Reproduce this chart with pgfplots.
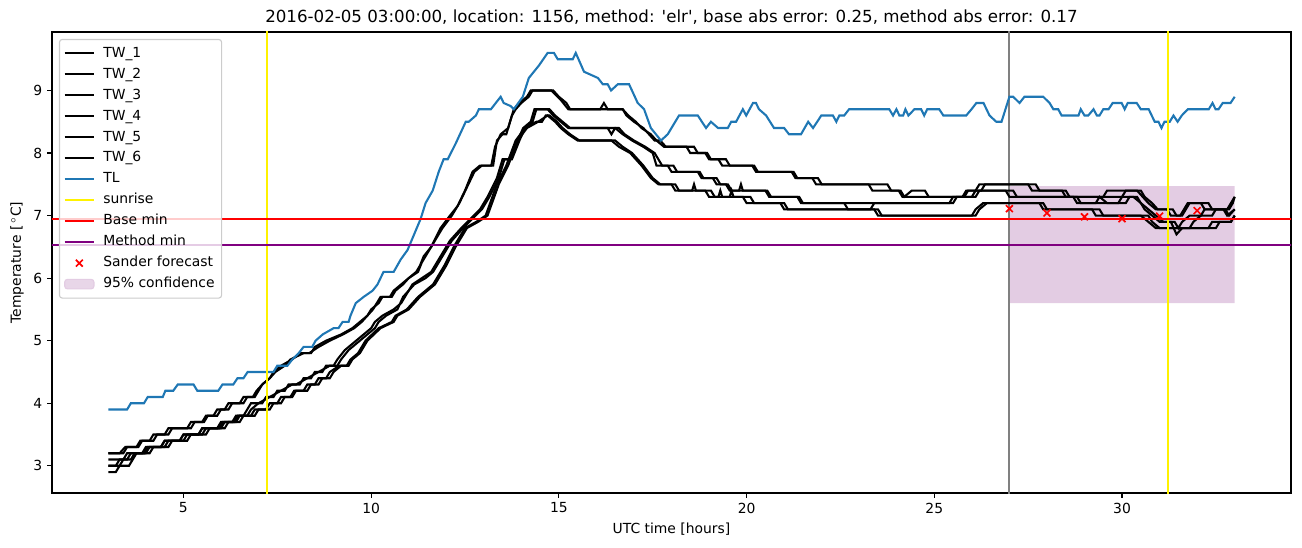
\documentclass[border=0pt]{standalone}
\usepackage{pgfplots}
\pgfplotsset{compat=1.18}
\usepackage{fontspec}
\setmainfont{DejaVu Sans}
\definecolor{tlblue}{HTML}{1F77B4}
\definecolor{mplpurple}{RGB}{128,0,128}
\definecolor{conf}{RGB}{227,204,227}
\definecolor{legframe}{RGB}{204,204,204}
\definecolor{mplgrey}{RGB}{128,128,128}
\begin{document}
\begin{tikzpicture}
\path[use as bounding box] (-37.44pt,-38.88pt) rectangle (900pt,354.96pt);
\begin{axis}[
  at={(0pt,0pt)}, anchor=south west,
  width=892.08pt, height=331.92pt, scale only axis,
  xmin=1.5, xmax=34.5, ymin=2.565, ymax=9.935,
  xtick={5,10,15,20,25,30}, ytick={3,4,5,6,7,8,9},
  tick align=outside, tick pos=left,
  major tick length=3.5pt,
  tick style={black, line width=0.8pt},
  axis line style={line width=0.8pt},
  ticklabel style={font=\fontsize{10}{12}\selectfont},
  /pgf/number format/assume math mode=true,
  xlabel={UTC time [hours]}, ylabel={Temperature [\,$^\circ$C]},
  label style={font=\fontsize{10}{12}\selectfont},
  title={2016-02-05 03:00:00, location: 1156, method: \textquotesingle elr\textquotesingle, base abs error: 0.25, method abs error: 0.17},
  title style={font=\fontsize{12}{14}\selectfont, yshift=-4pt},
  clip=true,
  legend cell align=left,
  legend style={at={(0.0056,0.985)}, anchor=north west, draw=legframe, line width=0.8pt, rounded corners=2pt,
    fill=white, fill opacity=0.8, text opacity=1, font=\fontsize{10}{12}\selectfont,
    row sep=0pt, inner xsep=3pt, inner ysep=2.5pt,
    nodes={inner sep=2pt, text height=8.2pt, text depth=2.9pt},
    /tikz/every odd column/.append style={column sep=4pt}},
  legend image code/.code={\draw[mark repeat=2,mark phase=2,#1] plot coordinates {(0cm,0cm) (0.37cm,0cm) (0.74cm,0cm)};},
]
% 95% confidence area (drawn first, legend entry added at the end)
\addplot[draw=none, fill=conf, forget plot] coordinates {(27,5.6) (33,5.6) (33,7.47) (27,7.47) (27,5.6)};
% grey vertical line (forecast start)
\addplot[mplgrey, line width=1.5pt, forget plot] coordinates {(27,2) (27,11)};

% TW_1
\addplot[black, line width=1.5pt] coordinates {
(3.0,3.2)(3.4,3.2)(3.5,3.3)(3.8,3.3)(3.9,3.4)(4.1,3.4)(4.2,3.5)(4.6,3.5)(4.7,3.6)(5.2,3.6)(5.3,3.7)(5.5,3.7)(5.6,3.8)(5.8,3.8)(5.9,3.9)(6.2,3.9)(6.3,4.0)(6.6,4.0)(6.7,4.1)(6.9,4.1)(7.0,4.2)(7.1,4.3)(7.3,4.4)(7.4,4.5)(7.6,4.6)(7.9,4.7)(8.1,4.8)(8.4,4.8)(8.5,4.9)(8.8,5.0)(9.2,5.1)(9.5,5.2)(9.7,5.3)(9.9,5.4)(10.0,5.5)(10.2,5.6)(10.3,5.7)(10.5,5.7)(10.6,5.8)(10.8,5.9)(11.0,6.0)(11.2,6.1)(11.3,6.2)(11.4,6.35)(11.6,6.5)(11.85,6.8)(12.1,7.0)(12.3,7.15)(12.5,7.4)(12.7,7.7)(12.9,7.8)(13.25,7.8)(13.35,8.2)(13.5,8.3)(13.6,8.3)(13.75,8.6)(13.85,8.7)(14.0,8.8)(14.2,8.9)(14.3,9.0)(14.8,9.0)(15.05,8.85)(15.25,8.7)(16.1,8.7)(16.2,8.8)(16.3,8.7)(16.7,8.7)(16.85,8.6)(17.05,8.5)(17.2,8.4)(17.45,8.3)(17.6,8.2)(17.8,8.1)(18.6,8.1)(18.7,8.0)(18.9,8.0)(19.0,7.9)(19.25,7.9)(19.35,7.8)(20.2,7.8)(20.3,7.7)(21.2,7.7)(21.3,7.6)(21.9,7.6)(22.0,7.5)(23.25,7.5)(23.35,7.4)(24.05,7.4)(24.15,7.3)(25.8,7.3)(25.9,7.4)(26.1,7.4)(26.2,7.5)(27.7,7.5)(27.8,7.4)(28.5,7.4)(28.6,7.3)(30.0,7.3)(30.1,7.4)(30.5,7.4)(30.6,7.3)(30.8,7.2)(30.95,7.1)(31.2,7.1)(31.3,7.0)(31.55,7.0)(31.65,7.1)(31.75,7.2)(32.1,7.2)(32.2,7.1)(32.8,7.1)(32.9,7.2)(33.0,7.3)
};
\addlegendentry{TW\_1}
% TW_2
\addplot[black, line width=1.5pt] coordinates {
(3.0,3.2)(3.3,3.2)(3.45,3.3)(3.75,3.3)(3.85,3.4)(4.2,3.4)(4.3,3.5)(4.5,3.5)(4.6,3.6)(5.1,3.6)(5.2,3.7)(5.55,3.7)(5.65,3.8)(5.9,3.8)(6.0,3.9)(6.1,3.9)(6.2,4.0)(6.5,4.0)(6.6,4.1)(6.85,4.1)(6.95,4.2)(7.1,4.3)(7.3,4.4)(7.45,4.5)(7.7,4.6)(7.85,4.7)(8.2,4.8)(8.35,4.8)(8.6,4.9)(8.9,5.0)(9.25,5.1)(9.55,5.2)(9.75,5.3)(9.9,5.4)(10.05,5.5)(10.25,5.7)(10.55,5.7)(10.65,5.8)(10.85,5.9)(11.0,6.0)(11.25,6.1)(11.35,6.25)(11.5,6.4)(11.65,6.55)(11.9,6.8)(12.15,7.0)(12.35,7.2)(12.55,7.45)(12.75,7.7)(12.95,7.8)(13.2,7.8)(13.3,8.1)(13.45,8.3)(13.65,8.4)(13.8,8.7)(13.95,8.8)(14.15,8.9)(14.25,9.0)(14.85,9.0)(15.0,8.9)(15.2,8.8)(15.3,8.7)(16.7,8.7)(16.8,8.6)(17.0,8.5)(17.25,8.4)(17.4,8.3)(17.55,8.2)(17.7,8.2)(17.85,8.1)(18.4,8.1)(18.5,8.0)(18.95,8.0)(19.05,7.9)(19.45,7.9)(19.55,7.8)(20.15,7.8)(20.25,7.7)(21.25,7.7)(21.35,7.6)(21.75,7.6)(21.85,7.5)(23.75,7.5)(23.85,7.4)(24.1,7.4)(24.2,7.3)(24.4,7.4)(24.75,7.4)(24.85,7.3)(25.75,7.3)(25.85,7.4)(26.25,7.4)(26.35,7.5)(27.5,7.5)(27.6,7.4)(28.4,7.4)(28.5,7.3)(29.5,7.3)(29.6,7.4)(30.4,7.4)(30.55,7.3)(30.7,7.2)(30.9,7.1)(31.35,7.1)(31.45,7.0)(31.6,7.0)(31.7,7.1)(31.8,7.2)(32.3,7.2)(32.4,7.1)(32.85,7.1)(32.95,7.2)(33.0,7.3)
};
\addlegendentry{TW\_2}
% TW_3
\addplot[black, line width=1.5pt] coordinates {
(3.0,3.1)(3.4,3.1)(3.5,3.2)(3.9,3.2)(4.0,3.3)(4.5,3.3)(4.6,3.4)(5.0,3.4)(5.1,3.5)(5.4,3.5)(5.5,3.6)(6.0,3.6)(6.1,3.7)(6.4,3.7)(6.5,3.8)(6.6,3.8)(6.7,3.9)(6.8,4.0)(7.1,4.0)(7.2,4.1)(7.4,4.1)(7.5,4.2)(7.7,4.2)(7.8,4.3)(8.1,4.3)(8.2,4.4)(8.4,4.4)(8.5,4.5)(8.7,4.5)(8.8,4.6)(9.0,4.6)(9.1,4.7)(9.3,4.85)(9.6,5.0)(9.8,5.1)(10.0,5.2)(10.1,5.3)(10.3,5.4)(10.6,5.5)(10.8,5.6)(10.9,5.7)(11.1,5.9)(11.35,6.0)(11.6,6.1)(11.85,6.35)(12.1,6.6)(12.4,6.8)(12.65,6.95)(12.9,7.1)(13.1,7.3)(13.35,7.6)(13.5,7.9)(13.7,7.9)(13.9,8.2)(14.05,8.4)(14.25,8.5)(14.35,8.7)(14.75,8.7)(14.9,8.6)(15.1,8.5)(15.3,8.4)(16.5,8.4)(16.7,8.3)(16.95,8.2)(17.25,8.1)(17.5,8.0)(17.6,7.8)(17.9,7.8)(18.0,7.7)(18.7,7.7)(18.8,7.6)(19.1,7.6)(19.2,7.5)(19.45,7.5)(19.55,7.4)(20.5,7.4)(20.6,7.3)(21.4,7.3)(21.5,7.2)(25.5,7.2)(25.6,7.3)(26.0,7.3)(26.1,7.4)(27.1,7.4)(27.2,7.3)(28.7,7.3)(28.8,7.2)(29.9,7.2)(30.0,7.3)(30.3,7.3)(30.5,7.2)(30.7,7.1)(30.9,7.0)(31.1,6.9)(31.4,6.9)(31.5,6.8)(31.6,6.9)(31.8,7.0)(32.1,7.0)(32.2,7.1)(32.7,7.1)(32.8,7.0)(33.0,7.1)
};
\addlegendentry{TW\_3}
% TW_4
\addplot[black, line width=1.5pt] coordinates {
(3.0,3.0)(3.3,3.0)(3.4,3.1)(3.6,3.1)(3.7,3.2)(4.0,3.2)(4.1,3.3)(4.4,3.3)(4.5,3.4)(4.9,3.4)(5.0,3.5)(5.5,3.5)(5.6,3.6)(5.9,3.6)(6.0,3.7)(6.3,3.7)(6.4,3.8)(6.7,3.8)(6.8,3.9)(7.0,4.0)(7.3,4.1)(7.6,4.2)(7.9,4.3)(8.0,4.3)(8.3,4.4)(8.6,4.5)(8.9,4.6)(9.1,4.6)(9.2,4.7)(9.4,4.85)(9.7,5.0)(9.9,5.1)(10.1,5.2)(10.2,5.3)(10.4,5.4)(10.7,5.5)(10.85,5.7)(11.15,5.9)(11.45,6.0)(11.65,6.1)(11.9,6.35)(12.15,6.6)(12.45,6.8)(12.7,6.95)(12.95,7.1)(13.15,7.3)(13.4,7.6)(13.55,7.9)(13.75,7.9)(13.95,8.2)(14.1,8.4)(14.3,8.5)(14.4,8.7)(14.7,8.7)(14.85,8.6)(15.05,8.5)(15.25,8.4)(16.3,8.4)(16.4,8.3)(16.5,8.4)(16.6,8.4)(16.75,8.3)(17.0,8.2)(17.3,8.1)(17.55,8.0)(17.65,7.9)(17.75,7.8)(18.05,7.8)(18.15,7.7)(18.75,7.7)(18.85,7.6)(19.2,7.6)(19.3,7.5)(19.5,7.5)(19.6,7.4)(19.8,7.4)(19.85,7.5)(19.9,7.4)(20.55,7.4)(20.65,7.3)(21.35,7.3)(21.45,7.2)(22.6,7.2)(22.7,7.1)(23.3,7.1)(23.4,7.2)(25.4,7.2)(25.5,7.3)(26.1,7.3)(26.2,7.4)(26.9,7.4)(27.0,7.3)(28.8,7.3)(28.9,7.2)(29.3,7.2)(29.4,7.3)(29.6,7.2)(30.1,7.2)(30.2,7.3)(30.4,7.3)(30.6,7.1)(30.8,7.0)(31.0,6.9)(31.3,6.9)(31.45,6.7)(31.6,6.8)(31.8,6.8)(31.9,6.9)(32.1,7.0)(32.4,7.0)(32.5,7.1)(32.75,7.1)(32.85,7.0)(33.0,7.1)
};
\addlegendentry{TW\_4}
% TW_5
\addplot[black, line width=1.5pt] coordinates {
(3.0,2.9)(3.2,2.9)(3.3,3.0)(3.55,3.0)(3.65,3.1)(3.75,3.2)(4.1,3.2)(4.2,3.3)(4.6,3.3)(4.7,3.4)(5.1,3.4)(5.2,3.5)(5.6,3.5)(5.7,3.6)(6.1,3.6)(6.2,3.7)(6.5,3.7)(6.6,3.8)(6.9,3.8)(7.0,3.9)(7.3,3.9)(7.4,4.0)(7.6,4.0)(7.7,4.1)(7.9,4.1)(8.0,4.2)(8.3,4.2)(8.4,4.3)(8.6,4.3)(8.7,4.4)(8.9,4.4)(9.0,4.5)(9.2,4.6)(9.4,4.6)(9.5,4.7)(9.7,4.8)(9.9,5.0)(10.25,5.2)(10.6,5.3)(10.7,5.4)(11.0,5.5)(11.3,5.7)(11.7,5.9)(12.0,6.2)(12.25,6.5)(12.55,6.8)(12.85,6.9)(13.1,7.0)(13.4,7.5)(13.65,7.8)(13.9,8.2)(14.15,8.4)(14.45,8.5)(14.7,8.6)(14.9,8.5)(15.05,8.4)(15.25,8.3)(15.5,8.2)(16.5,8.2)(16.7,8.1)(16.95,8.0)(17.25,7.8)(17.5,7.6)(17.7,7.5)(18.0,7.5)(18.1,7.4)(18.9,7.4)(19.0,7.3)(19.25,7.3)(19.3,7.4)(19.35,7.3)(19.9,7.3)(20.0,7.2)(20.9,7.2)(21.0,7.1)(23.4,7.1)(23.5,7.0)(26.1,7.0)(26.2,7.1)(26.4,7.2)(27.9,7.2)(28.0,7.1)(29.4,7.1)(29.5,7.0)(30.7,7.0)(30.8,6.9)(31.0,6.8)(32.5,6.8)(32.6,6.9)(32.9,6.9)(33.0,7.0)
};
\addlegendentry{TW\_5}
% TW_6
\addplot[black, line width=1.5pt] coordinates {
(3.0,3.0)(3.2,3.0)(3.3,3.1)(3.5,3.1)(3.6,3.2)(3.95,3.2)(4.05,3.3)(4.4,3.3)(4.5,3.4)(4.9,3.4)(5.0,3.5)(5.4,3.5)(5.5,3.6)(5.95,3.6)(6.05,3.7)(6.35,3.7)(6.45,3.8)(6.8,3.8)(6.9,3.9)(7.2,3.9)(7.3,4.0)(7.5,4.0)(7.6,4.1)(7.85,4.1)(7.95,4.2)(8.2,4.2)(8.3,4.3)(8.5,4.3)(8.6,4.4)(8.8,4.4)(8.9,4.5)(9.15,4.6)(9.35,4.6)(9.45,4.7)(9.65,4.8)(9.85,5.0)(10.2,5.2)(10.55,5.3)(10.65,5.4)(10.95,5.5)(11.25,5.7)(11.65,5.9)(11.95,6.2)(12.2,6.5)(12.5,6.8)(12.8,6.9)(13.05,7.0)(13.35,7.5)(13.6,7.8)(13.85,8.2)(14.1,8.4)(14.4,8.5)(14.55,8.5)(14.65,8.6)(14.75,8.6)(14.95,8.5)(15.1,8.4)(15.3,8.3)(15.55,8.2)(16.4,8.2)(16.6,8.1)(16.9,8.0)(17.2,7.8)(17.45,7.6)(17.65,7.5)(18.1,7.5)(18.2,7.4)(18.55,7.4)(18.6,7.5)(18.65,7.4)(19.05,7.4)(19.15,7.3)(19.55,7.3)(19.6,7.4)(19.65,7.3)(20.1,7.3)(20.2,7.2)(21.0,7.2)(21.1,7.1)(23.5,7.1)(23.6,7.0)(26.0,7.0)(26.1,7.1)(26.3,7.2)(27.8,7.2)(27.9,7.1)(29.2,7.1)(29.3,7.0)(30.5,7.0)(30.7,6.9)(30.9,6.8)(32.3,6.8)(32.4,6.9)(32.9,6.9)(33.0,7.0)
};
\addlegendentry{TW\_6}
% TL
\addplot[tlblue, line width=1.5pt] coordinates {
(3.0,3.9)(3.5,3.9)(3.6,4.0)(3.95,4.0)(4.05,4.1)(4.45,4.1)(4.52,4.2)(4.73,4.2)(4.85,4.3)(5.27,4.3)(5.37,4.2)(5.93,4.2)(6.04,4.3)(6.33,4.3)(6.44,4.4)(6.6,4.4)(6.71,4.5)(7.4,4.5)(7.5,4.6)(7.77,4.6)(7.9,4.7)(8.07,4.8)(8.2,4.9)(8.43,4.9)(8.52,5.0)(8.71,5.1)(9.0,5.2)(9.13,5.2)(9.24,5.3)(9.4,5.3)(9.45,5.4)(9.59,5.6)(9.8,5.7)(10.04,5.8)(10.17,5.9)(10.33,6.1)(10.6,6.1)(10.79,6.3)(10.97,6.45)(11.11,6.65)(11.32,6.95)(11.45,7.2)(11.64,7.4)(11.8,7.7)(11.93,7.9)(12.04,7.9)(12.25,8.15)(12.52,8.5)(12.6,8.5)(12.79,8.6)(12.87,8.7)(13.19,8.7)(13.32,8.8)(13.45,8.9)(13.53,8.8)(13.72,8.75)(13.8,8.7)(14.04,8.9)(14.2,9.2)(14.47,9.4)(14.7,9.6)(14.87,9.6)(14.97,9.5)(15.37,9.5)(15.45,9.6)(15.67,9.3)(16.04,9.2)(16.17,9.1)(16.3,9.1)(16.39,9.0)(16.57,9.1)(16.87,9.1)(17.1,8.8)(17.27,8.7)(17.45,8.4)(17.72,8.2)(17.9,8.3)(18.2,8.6)(18.7,8.6)(18.92,8.4)(19.05,8.5)(19.24,8.4)(19.5,8.4)(19.59,8.5)(19.72,8.5)(19.9,8.7)(19.99,8.6)(20.17,8.8)(20.25,8.8)(20.33,8.7)(20.52,8.6)(20.73,8.4)(21.0,8.4)(21.13,8.3)(21.45,8.3)(21.64,8.5)(21.77,8.4)(21.99,8.6)(22.3,8.6)(22.39,8.5)(22.47,8.6)(22.6,8.6)(22.73,8.7)(23.8,8.7)(23.9,8.6)(23.99,8.7)(24.07,8.6)(24.17,8.6)(24.23,8.7)(24.31,8.6)(24.47,8.7)(24.65,8.7)(24.73,8.6)(24.81,8.7)(25.13,8.7)(25.24,8.6)(25.85,8.6)(25.99,8.7)(26.12,8.8)(26.31,8.8)(26.47,8.6)(26.65,8.5)(26.79,8.5)(27.0,8.9)(27.1,8.9)(27.27,8.8)(27.4,8.9)(27.9,8.9)(28.07,8.8)(28.17,8.7)(28.3,8.7)(28.39,8.6)(28.84,8.6)(28.9,8.7)(29.0,8.6)(29.1,8.6)(29.24,8.7)(29.33,8.6)(29.4,8.6)(29.5,8.7)(29.64,8.7)(29.75,8.8)(29.99,8.8)(30.07,8.7)(30.15,8.8)(30.39,8.8)(30.5,8.7)(30.71,8.7)(30.87,8.5)(30.97,8.5)(31.05,8.4)(31.13,8.5)(31.27,8.5)(31.37,8.6)(31.48,8.5)(31.59,8.6)(31.75,8.7)(32.31,8.7)(32.41,8.8)(32.49,8.7)(32.57,8.7)(32.68,8.8)(32.89,8.8)(33.0,8.9)
};
\addlegendentry{TL}
% sunrise
\addplot[yellow, line width=1.5pt] coordinates {(7.22,2) (7.22,11)};
\addlegendentry{sunrise}
\addplot[yellow, line width=1.5pt, forget plot] coordinates {(31.22,2) (31.22,11)};
% base min
\addplot[red, line width=1.5pt] coordinates {(0,6.95) (36,6.95)};
\addlegendentry{Base min}
% method min
\addplot[mplpurple, line width=1.5pt] coordinates {(0,6.53) (36,6.53)};
\addlegendentry{Method min}
% Sander forecast
\addplot[red, only marks, mark=x, mark size=3.5pt, line width=1.2pt] coordinates {
(27,7.11) (28,7.04) (29,6.98) (30,6.95) (31,6.99) (32,7.08)
};
\addlegendentry{Sander forecast}
\addlegendimage{legend image code/.code={\fill[conf] (0cm,-0.12cm) rectangle (0.74cm,0.12cm);}}
\addlegendentry{95\% confidence}
\end{axis}
\end{tikzpicture}
\end{document}
